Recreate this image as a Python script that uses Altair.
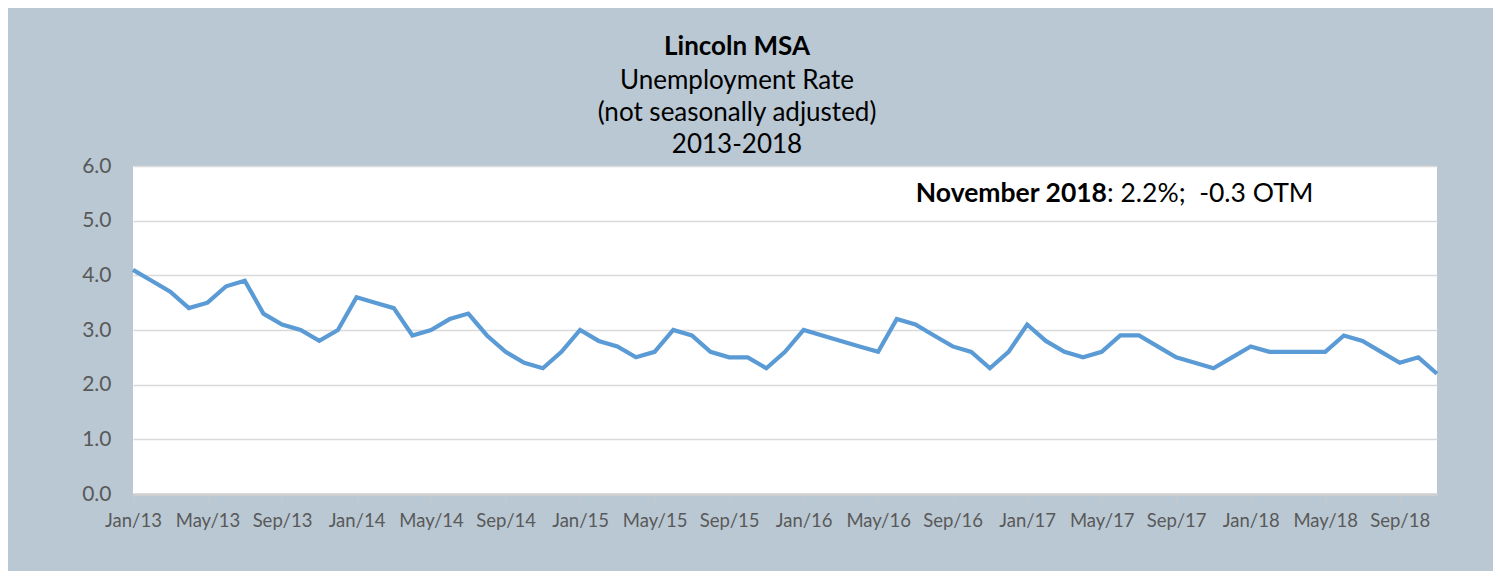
import altair as alt
import pandas as pd

months = ["Jan", "Feb", "Mar", "Apr", "May", "Jun", "Jul", "Aug", "Sep", "Oct", "Nov", "Dec"]
years = ["13", "14", "15", "16", "17", "18"]

rate_2013 = [4.1, 3.9, 3.7, 3.4, 3.5, 3.8, 3.9, 3.3, 3.1, 3.0, 2.8, 3.0]
rate_2014 = [3.6, 3.5, 3.4, 2.9, 3.0, 3.2, 3.3, 2.9, 2.6, 2.4, 2.3, 2.6]
rate_2015 = [3.0, 2.8, 2.7, 2.5, 2.6, 3.0, 2.9, 2.6, 2.5, 2.5, 2.3, 2.6]
rate_2016 = [3.0, 2.9, 2.8, 2.7, 2.6, 3.2, 3.1, 2.9, 2.7, 2.6, 2.3, 2.6]
rate_2017 = [3.1, 2.8, 2.6, 2.5, 2.6, 2.9, 2.9, 2.7, 2.5, 2.4, 2.3, 2.5]
rate_2018 = [2.7, 2.6, 2.6, 2.6, 2.6, 2.9, 2.8, 2.6, 2.4, 2.5, 2.2]

y_ticks = [0, 1, 2, 3, 4, 5, 6]

title_main = "Lincoln MSA"
title_sub = ["Unemployment Rate", "(not seasonally adjusted)", "2013-2018"]
note_bold = "November 2018"
note_rest = ": 2.2%;\u00a0 -0.3 OTM"

rates = rate_2013 + rate_2014 + rate_2015 + rate_2016 + rate_2017 + rate_2018
labels = [f"{m}/{y}" for y in years for m in months][: len(rates)]
df = pd.DataFrame({"label": labels, "rate": rates})

FONT = "Lato"
BG = "#BAC8D3"

x_enc = alt.X(
    "label:O",
    sort=labels,
    scale=alt.Scale(type="point", padding=0),
    axis=alt.Axis(
        title=None,
        values=labels[::4],
        labelAngle=0,
        labelFont=FONT,
        labelFontSize=18.5,
        labelColor="#595959",
        labelPadding=10,
        domainColor="#D0D0D0",
        domainWidth=2.5,
        tickColor="#C8C8C8",
        tickWidth=1.5,
        tickSize=7,
        grid=False,
    ),
)
y_enc = alt.Y(
    "rate:Q",
    scale=alt.Scale(domain=[0, 6], nice=False, zero=True),
    axis=alt.Axis(
        title=None,
        values=y_ticks,
        format=".1f",
        labelFont=FONT,
        labelFontSize=21,
        labelColor="#595959",
        labelPadding=22,
        domain=False,
        ticks=False,
        grid=True,
        gridColor="#D9D9D9",
        gridWidth=1.5,
    ),
)

line = alt.Chart(df).mark_line(color="#5B9BD5", strokeWidth=4.2).encode(x=x_enc, y=y_enc)

note1 = alt.Chart(df.head(1)).mark_text(
    text=note_bold, font=FONT, fontSize=26.5, fontWeight="bold", align="right",
    baseline="alphabetic", color="#000000",
).encode(x=alt.value(974), y=alt.value(36))
note2 = alt.Chart(df.head(1)).mark_text(
    text=note_rest, font=FONT, fontSize=26.5, align="left",
    baseline="alphabetic", color="#000000",
).encode(x=alt.value(974), y=alt.value(36))

chart = (
    alt.layer(line, note1, note2)
    .properties(
        width=1304,
        height=328,
        autosize=alt.AutoSizeParams(type="none"),
        padding={"left": 125, "top": 158, "right": 56, "bottom": 77},
        background=BG,
        title=alt.TitleParams(
            text=title_main,
            subtitle=title_sub,
            font=FONT,
            fontSize=26,
            fontWeight="bold",
            color="#000000",
            subtitleFont=FONT,
            subtitleFontSize=26,
            subtitleColor="#000000",
            subtitleLineHeight=32,
            subtitlePadding=8,
            anchor="middle",
            dx=-48,
            offset=-3,
        ),
    )
    .configure_view(fill="#FFFFFF", stroke=None)
)

chart.save("out.html", embed_options={"renderer": "svg", "actions": False})
